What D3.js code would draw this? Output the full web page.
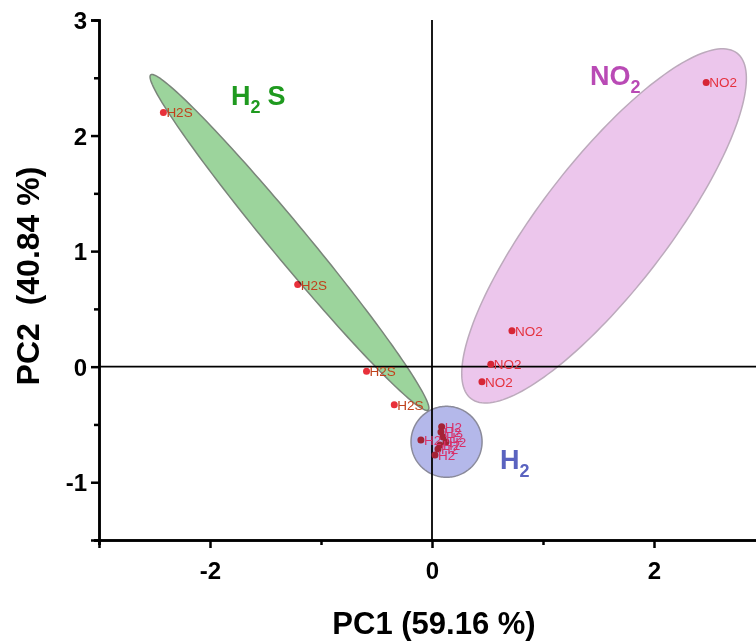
<!DOCTYPE html>
<html>
<head>
<meta charset="utf-8">
<script src="https://cdn.jsdelivr.net/npm/d3@7"></script>
<style>
  body { margin: 0; background: #fff; }
  svg { font-family: "Liberation Sans", Arial, sans-serif; }
</style>
</head>
<body>
<svg width="756" height="642"></svg>
<script>
// scores
var h2sX = [-2.42, -1.21, -0.59, -0.34];
var h2sY = [2.20, 0.71, -0.04, -0.33];
var no2X = [2.47, 0.72, 0.53, 0.45];
var no2Y = [2.46, 0.31, 0.02, -0.13];
var h2X = [-0.10, 0.087, 0.081, 0.099, 0.126, 0.072, 0.054, 0.027];
var h2Y = [-0.635, -0.519, -0.565, -0.608, -0.652, -0.678, -0.712, -0.764];

// confidence ellipses: centre + two conjugate semi-axis vectors (data units)
var ellNames = ["H2S", "NO2", "H2"];
var ellCx = [-1.284, 1.550, 0.131];
var ellCy = [1.075, 1.218, -0.650];
var ellU = [[-1.250, 1.450], [1.198, 1.495], [0.32, 0]];
var ellV = [[0.125, 0.099], [0.457, -0.338], [0, 0.307]];

// group captions (data position)
var capX = [-1.81, 1.423, 0.613];
var capY = [2.266, 2.439, -0.886];

var xTicks = [-2, 0, 2], xMinor = [-3, -1, 1, 3];
var yTicks = [-1, 0, 1, 2, 3], yMinor = [-1.5, -0.5, 0.5, 1.5, 2.5];

var svg = d3.select("svg"),
  margin = {top: 20, left: 99},
  width = 666, height = 520,
  g = svg.append("g").attr("transform", "translate(" + margin.left + "," + margin.top + ")");

var x = d3.scaleLinear().domain([-3, 3]).range([0, width]);
var y = d3.scaleLinear().domain([-1.5, 3]).range([height, 0]);

// zero lines
g.append("line").attr("x1", x(0)).attr("x2", x(0)).attr("y1", 0).attr("y2", height)
  .attr("stroke", "#000").attr("stroke-width", 1.8);
g.append("line").attr("x1", 0).attr("x2", width).attr("y1", y(0)).attr("y2", y(0))
  .attr("stroke", "#000").attr("stroke-width", 1.8);

var sets = [
  {xs: h2sX, ys: h2sY, name: "H2S", col: "#c0421c"},
  {xs: no2X, ys: no2Y, name: "NO2", col: "#e5323f"},
  {xs: h2X, ys: h2Y, name: "H2", col: "#d8306a"}
];

// points
sets.forEach(function(s) {
  g.selectAll(null).data(s.xs).enter().append("circle")
    .attr("cx", function(d) { return x(d); })
    .attr("cy", function(d, i) { return y(s.ys[i]); })
    .attr("r", 3.5)
    .attr("fill", "#e8303a");
});

// ellipses
var fills = ["#9cd49c", "#ecc6ec", "#b4b8ea"];
var strokes = ["#7a857a", "#bcaabc", "#8a8a9a"];
var ts = d3.range(0, 181).map(function(k) { return k / 180 * 2 * Math.PI; });
ellNames.forEach(function(n, e) {
  var line = d3.line()
    .x(function(t) { return x(ellCx[e] + ellU[e][0] * Math.cos(t) + ellV[e][0] * Math.sin(t)); })
    .y(function(t) { return y(ellCy[e] + ellU[e][1] * Math.cos(t) + ellV[e][1] * Math.sin(t)); })
    .curve(d3.curveLinearClosed);
  g.append("path")
    .datum(ts)
    .attr("d", line)
    .attr("fill", fills[e])
    .attr("stroke", strokes[e])
    .attr("stroke-width", 1.5)
    .style("mix-blend-mode", "multiply");
});

// point labels
sets.forEach(function(s) {
  g.selectAll(null).data(s.xs).enter().append("text")
    .attr("x", function(d) { return x(d) + 3; })
    .attr("y", function(d, i) { return y(s.ys[i]) + 5; })
    .attr("font-size", 13.5)
    .attr("fill", s.col)
    .text(s.name);
});

// axes
var yAxis = g.append("g").call(d3.axisLeft(y).tickValues(yTicks).tickSize(8).tickPadding(4).tickFormat(d3.format("d")));
var yAxisMinor = g.append("g").call(d3.axisLeft(y).tickValues(yMinor).tickSize(5).tickFormat(""));
var xAxis = g.append("g").attr("transform", "translate(0," + height + ")")
  .call(d3.axisBottom(x).tickValues(xTicks).tickSize(8).tickPadding(14).tickFormat(d3.format("d")));
var xAxisMinor = g.append("g").attr("transform", "translate(0," + height + ")")
  .call(d3.axisBottom(x).tickValues(xMinor).tickSize(5).tickFormat(""));

[yAxis, yAxisMinor, xAxis, xAxisMinor].forEach(function(a) {
  a.select(".domain").attr("stroke-width", 2.5).attr("stroke", "#000");
  a.selectAll(".tick line").attr("stroke-width", 2.5).attr("stroke", "#000");
  a.selectAll("text").attr("font-size", 24).attr("font-weight", "bold")
    .attr("font-family", "'Liberation Sans', Arial, sans-serif").attr("fill", "#000");
});
xAxis.selectAll(".tick text").text(function(d) { return d < 0 ? "-" + Math.abs(d) : d; });
yAxis.selectAll(".tick text").text(function(d) { return d < 0 ? "-" + Math.abs(d) : d; }).attr("dy", "0.36em");

// axis titles
svg.append("text")
  .attr("x", margin.left + x(0) + 2).attr("y", 634)
  .attr("text-anchor", "middle").attr("font-size", 31).attr("font-weight", "bold")
  .text("PC1 (59.16 %)");
svg.append("text")
  .attr("transform", "translate(39," + (margin.top + 256) + ") rotate(-90)")
  .attr("text-anchor", "middle").attr("font-size", 32).attr("font-weight", "bold")
  .style("white-space", "pre")
  .text("PC2  (40.84 %)");

// group captions
var capCols = ["#1f9a1f", "#b94ab5", "#5a63c0"];
var capMain = [["H", "S"], ["NO", ""], ["H", ""]];
ellNames.forEach(function(n, e) {
  var t = g.append("text")
    .attr("x", x(capX[e])).attr("y", y(capY[e]))
    .attr("font-size", 27).attr("font-weight", "bold")
    .attr("fill", capCols[e]);
  t.append("tspan").text(capMain[e][0]);
  t.append("tspan").attr("font-size", 18).attr("dy", 8).text("2");
  if (capMain[e][1]) t.append("tspan").attr("dy", -8).attr("dx", 7).text(capMain[e][1]);
});
</script>
</body>
</html>
